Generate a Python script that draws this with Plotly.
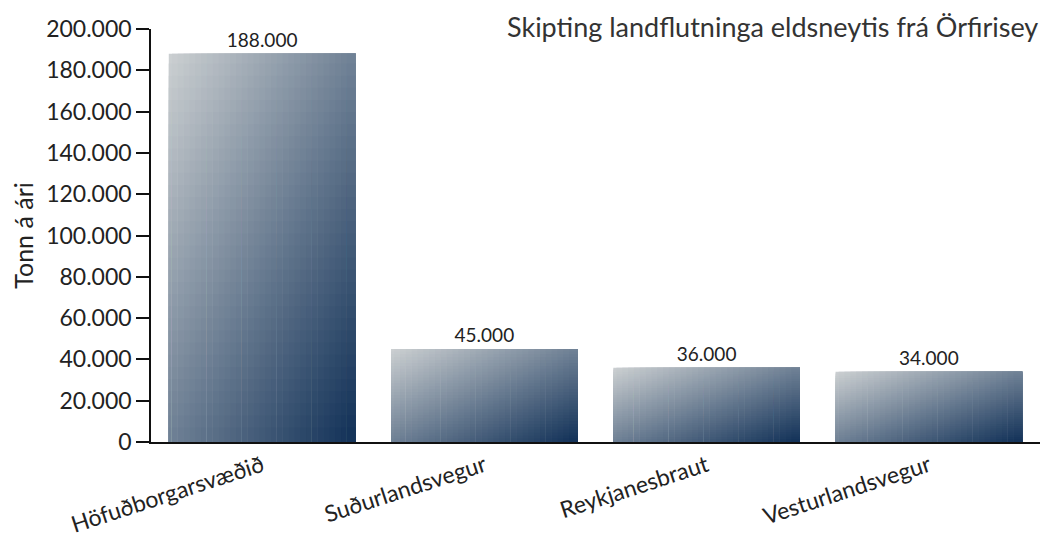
import plotly.graph_objects as go

categories = ["Höfuðborgarsvæðið", "Suðurlandsvegur", "Reykjanesbraut", "Vesturlandsvegur"]
values = [188000, 45000, 36000, 34000]
title_text = "Skipting landflutninga eldsneytis frá Örfirisey"
y_title = "Tonn á ári"

labels = [f"{v:,}".replace(",", ".") for v in values]

LIGHT = (203, 207, 209)
DARK = (21, 52, 90)
N = 32
BAR_W = 0.84
EPS_X = 0.012
EPS_Y = 0.006


def mix(t):
    r = [round(LIGHT[k] + (DARK[k] - LIGHT[k]) * t) for k in range(3)]
    return f"rgb({r[0]},{r[1]},{r[2]})"


fig = go.Figure()

# diagonal gradient built from overlaid bars (each covers from its cell to the bar's right/bottom edge)
for i in range(N):
    ex = EPS_X if i > 0 else 0.0
    for j in range(N):
        ey = EPS_Y if j > 0 else 0.0
        t = (i / (N - 1) + j / (N - 1)) / 2
        fig.add_trace(go.Bar(
            x=categories,
            y=[v * ((N - j) / N + ey) for v in values],
            offset=-BAR_W / 2 + BAR_W * i / N - ex,
            width=BAR_W * (N - i) / N + ex,
            marker=dict(color=mix(t), line=dict(width=0)),
            hoverinfo="skip",
            showlegend=False,
        ))

# value labels
fig.add_trace(go.Bar(
    x=categories,
    y=values,
    width=BAR_W,
    marker=dict(color="rgba(0,0,0,0)", line=dict(width=0)),
    text=labels,
    textposition="outside",
    textfont=dict(family="Lato", size=19, color="#222"),
    cliponaxis=False,
    showlegend=False,
    hovertemplate="%{x}: %{text}<extra></extra>",
))

fig.update_layout(
    width=1044,
    height=538,
    barmode="overlay",
    separators=",.",
    plot_bgcolor="white",
    paper_bgcolor="white",
    margin=dict(l=143, r=12, t=21, b=104, autoexpand=False),
    font=dict(family="Lato", color="#222"),
    annotations=[dict(
        text=title_text, xref="paper", yref="paper", x=1, y=1.005,
        xanchor="right", yanchor="middle", showarrow=False,
        font=dict(family="Lato", size=27, color="#333"),
    )],
)

fig.update_yaxes(
    range=[0, 200000], dtick=20000, tickformat=",d",
    showline=True, linecolor="#111", linewidth=1.5,
    ticks="outside", ticklen=13, tickcolor="#111", tickwidth=1.5,
    showgrid=False, zeroline=False, automargin=False,
    tickfont=dict(family="Lato", size=23, color="#222"),
    title=dict(text=y_title, font=dict(family="Lato", size=25, color="#222"), standoff=16),
)
fig.update_xaxes(
    showline=True, linecolor="#111", linewidth=1.5,
    ticks="", tickangle=-18, automargin=False,
    tickfont=dict(family="Lato", size=23, color="#222"),
    showgrid=False,
)

fig.write_html("out.html")
